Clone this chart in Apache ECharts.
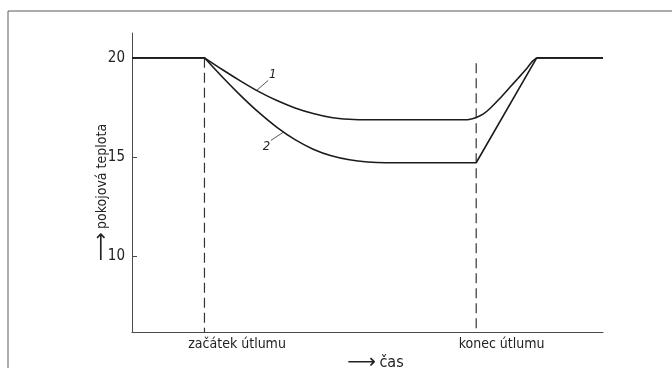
<!DOCTYPE html>
<html>
<head>
<meta charset="utf-8">
<script src="https://cdn.jsdelivr.net/npm/echarts@6/dist/echarts.min.js"></script>
<style>
  html, body { margin: 0; padding: 0; background: #fff; }
  #chart { width: 672px; height: 368px; }
</style>
</head>
<body>
<div id="chart"></div>
<script>
// Room temperature during a night set-back: curve 1 and curve 2.
const FONT = "'DejaVu Sans Condensed', 'Liberation Sans Narrow', sans-serif";

// time axis (arbitrary hours) and temperature axis range
const timeMin = 0;
const timeMax = 13;
const tempMin = 6.2;
const tempMax = 21.25;
const tempTicks = [10, 15, 20];

// set-back start / end
const setbackStart = 2;
const setbackEnd = 9.5;
const eventLabels = ['začátek útlumu', 'konec útlumu'];
const eventLabelAt = [2.9, 10.2];
const dashTopTemp = [20, 19.73];

// curve 1
const curve1Time = [0, 2, 2.5, 3, 3.5, 4, 4.5, 5, 5.5, 6, 6.5, 9.05, 9.3, 9.5, 9.7, 9.88, 10.15, 10.43, 10.65, 10.89, 11.05, 11.17, 13];
const curve1Temp = [20, 20, 19.40, 18.83, 18.30, 17.85, 17.48, 17.20, 17.00, 16.91, 16.88, 16.88, 16.90, 17.00, 17.18, 17.45, 17.95, 18.52, 18.96, 19.45, 19.82, 20, 20];
const curve1Corners = [2, 11.17];

// curve 2
const curve2Time = [0, 2, 2.5, 3, 3.5, 4, 4.5, 5, 5.5, 6, 6.5, 7, 9.5, 11.17, 13];
const curve2Temp = [20, 20, 19.02, 18.10, 17.25, 16.50, 15.88, 15.40, 15.07, 14.87, 14.76, 14.72, 14.72, 20, 20];
const curve2Corners = [2, 9.5, 11.17];

// curve numbers with their anchor point on each curve
const curveNames = ['1', '2'];
const curveAnchors = [[3.44, 18.36], [4.18, 16.26]];

// pair up a curve and break it at its kinks so smoothing keeps the corners sharp
function curveData(times, temps, corners) {
  const out = [];
  times.forEach((t, i) => {
    out.push([t, temps[i]]);
    if (corners.includes(t) && i < times.length - 1) {
      out.push(null);
      out.push([t, temps[i]]);
    }
  });
  return out;
}

const ink = '#1c1c1c';
const axisInk = '#4a4a4a';

const chart = echarts.init(document.getElementById('chart'), null, { renderer: 'canvas' });

const option = {
  animation: false,
  backgroundColor: '#ffffff',
  textStyle: { fontFamily: FONT },
  grid: { left: 132, right: 69, top: 33, bottom: 36, containLabel: false, outerBoundsMode: 'none' },
  xAxis: {
    type: 'value',
    min: timeMin,
    max: timeMax,
    name: '{arr|⟶} {txt|čas}',
    nameLocation: 'middle',
    nameGap: 21,
    nameMoveOverlap: false,
    nameTextStyle: {
      padding: [0, 0, 0, 16],
      rich: {
        arr: { fontFamily: 'DejaVu Sans', fontSize: 20, color: '#222' },
        txt: { fontFamily: FONT, fontSize: 16, color: '#222' }
      }
    },
    axisLine: { show: true, lineStyle: { color: axisInk, width: 1 } },
    axisTick: { show: false },
    splitLine: { show: false },
    axisLabel: {
      customValues: eventLabelAt,
      formatter: (v) => eventLabels[eventLabelAt.indexOf(v)] || '',
      fontFamily: FONT,
      fontSize: 14,
      color: '#222',
      margin: 5
    }
  },
  yAxis: {
    type: 'value',
    min: tempMin,
    max: tempMax,
    name: '{arr|⟶} {txt|pokojová teplota}',
    nameLocation: 'middle',
    nameRotate: 90,
    nameGap: 20,
    nameMoveOverlap: false,
    nameTextStyle: {
      padding: [0, 20, 0, 0],
      rich: {
        arr: { fontFamily: 'DejaVu Sans', fontSize: 20, color: '#222' },
        txt: { fontFamily: FONT, fontSize: 14, color: '#222' }
      }
    },
    axisLine: { show: true, lineStyle: { color: axisInk, width: 1 } },
    axisTick: { show: true, inside: true, length: 5, customValues: tempTicks, lineStyle: { color: axisInk } },
    splitLine: { show: false },
    axisLabel: {
      customValues: tempTicks,
      fontFamily: FONT,
      fontSize: 15,
      color: '#222',
      margin: 7
    }
  },
  series: [
    {
      type: 'line',
      name: '1',
      data: curveData(curve1Time, curve1Temp, curve1Corners),
      showSymbol: false,
      smooth: 0.3,
      connectNulls: false,
      lineStyle: { color: ink, width: 1.6 },
      z: 3
    },
    {
      type: 'line',
      name: '2',
      data: curveData(curve2Time, curve2Temp, curve2Corners),
      showSymbol: false,
      smooth: 0.3,
      connectNulls: false,
      lineStyle: { color: ink, width: 1.6 },
      z: 3
    },
    {
      type: 'line',
      data: [[setbackStart, dashTopTemp[0]], [setbackStart, tempMin]],
      showSymbol: false,
      lineStyle: { color: '#333', width: 1.2, type: [10, 5] },
      z: 2
    },
    {
      type: 'line',
      data: [[setbackEnd, dashTopTemp[1]], [setbackEnd, tempMin]],
      showSymbol: false,
      lineStyle: { color: '#333', width: 1.2, type: [10, 5] },
      z: 2
    }
  ]
};

chart.setOption(option);

// frame lines and curve callouts
const calloutOffsets = [
  { lead: [11.6, -10], text: [16, -16] },
  { lead: [-12.6, 8.3], text: [-17, 14] }
];
const graphics = [
  { type: 'line', shape: { x1: 8, y1: 11, x2: 672, y2: 11 }, style: { stroke: '#5a5a5a', lineWidth: 1 } },
  { type: 'line', shape: { x1: 8, y1: 11, x2: 8, y2: 368 }, style: { stroke: '#5a5a5a', lineWidth: 1 } }
];
curveAnchors.forEach((pt, i) => {
  const p = chart.convertToPixel({ gridIndex: 0 }, pt);
  const o = calloutOffsets[i];
  graphics.push({
    type: 'line',
    shape: { x1: p[0], y1: p[1], x2: p[0] + o.lead[0], y2: p[1] + o.lead[1] },
    style: { stroke: '#444', lineWidth: 0.9 }
  });
  graphics.push({
    type: 'text',
    x: p[0] + o.text[0],
    y: p[1] + o.text[1],
    style: {
      text: curveNames[i],
      fontFamily: FONT,
      fontSize: 13,
      fontStyle: 'italic',
      fill: '#222',
      align: 'center',
      verticalAlign: 'middle'
    }
  });
});
chart.setOption({ graphic: graphics });
</script>
</body>
</html>
